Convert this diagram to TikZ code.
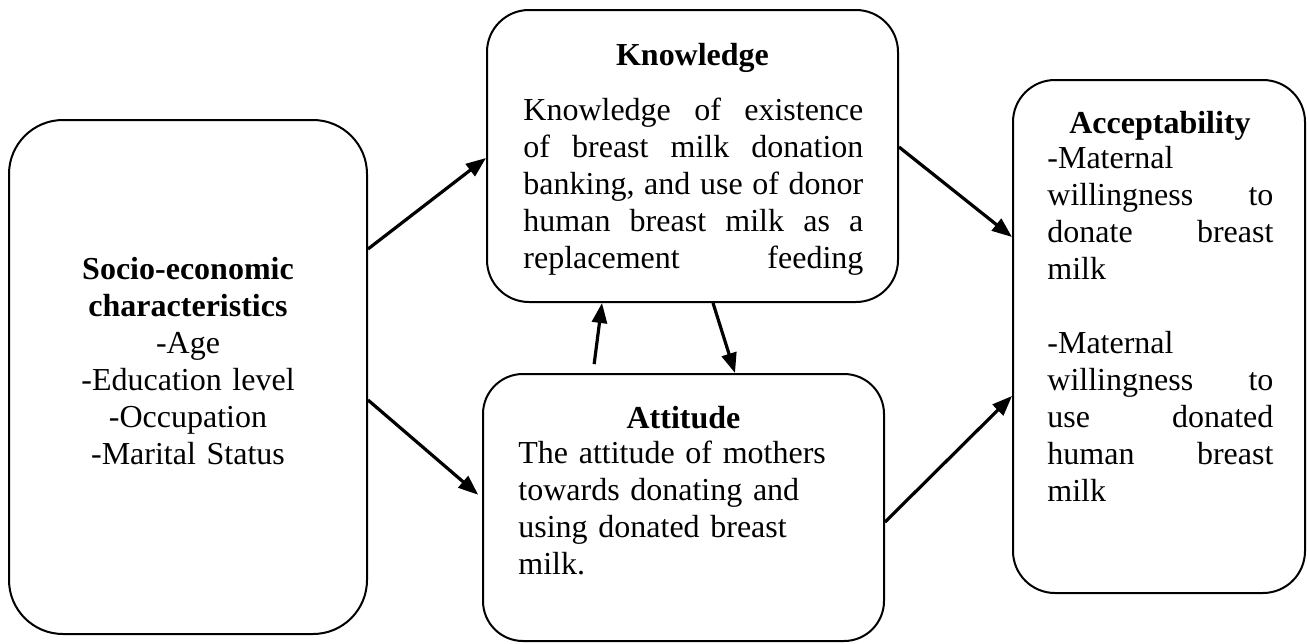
\documentclass[tikz,border=0pt]{standalone}
\usepackage{fontspec}
\setmainfont{Liberation Serif}
\usetikzlibrary{arrows.meta}

\begin{document}
\begin{tikzpicture}[x=0.5pt, y=-0.5pt,
  framebox/.style={draw, line width=1pt, inner sep=0pt},
  bodytext/.style={font=\fontsize{16}{18.5}\selectfont, inner sep=0pt},
  headtext/.style={font=\fontsize{16}{18.5}\selectfont\bfseries, inner sep=0pt, anchor=base},
  link/.style={line width=1.6pt, -{Triangle[length=10pt, width=7.5pt]}}]
\useasboundingbox (0,0) rectangle (1307,643);
\node[framebox, rounded corners=27pt, minimum width=179pt, minimum height=257pt] (socio) at (188,377) {};
\node[framebox, rounded corners=21pt, minimum width=205.5pt, minimum height=146pt] (know) at (692.5,156) {};
\node[framebox, rounded corners=20pt, minimum width=200.5pt, minimum height=133.5pt] (att) at (683.5,507.5) {};
\node[framebox, rounded corners=21pt, minimum width=146pt, minimum height=256.5pt] (acc) at (1159,336.5) {};
\node[bodytext, text width=179pt, align=center, anchor=base] (sociotext) at (188,279)
  {\textbf{Socio-economic}\\\textbf{characteristics}\\-Age\\-Education level\\-Occupation\\-Marital Status};
\node[headtext] (knowhead) at (692.5,65) {Knowledge};
\node[bodytext, text width=170pt, align=left, anchor=base west] (knowtext) at (523,120)
  {Knowledge\hfill of\hfill existence\\of\hfill breast\hfill milk\hfill donation\\banking,\hfill and\hfill use\hfill of\hfill donor\\human\hfill breast\hfill milk\hfill as\hfill a\\replacement\hfill feeding};
\node[headtext] (atthead) at (683.5,428) {Attitude};
\node[bodytext, text width=180pt, align=left, anchor=base west] (atttext) at (518,463)
  {The attitude of mothers\\towards donating and\\using donated breast\\milk.};
\node[headtext] (acchead) at (1160,133) {Acceptability};
\node[bodytext, text width=113pt, align=left, anchor=base west] (acctext) at (1047,168)
  {-Maternal\\willingness\hfill to\\donate\hfill breast\\milk\\[18.5pt]-Maternal\\willingness\hfill to\\use\hfill donated\\human\hfill breast\\milk};
\draw[link] (socio.east |- 0,249) -- (know.west |- 0,158);
\draw[link, shorten >=2.5pt] (socio.east |- 0,400) -- (att.west |- 0,498);
\draw[link, shorten <=4.5pt] (att.north -| 593,0) -- (know.south -| 602,0);
\draw[link] (know.south -| 713,0) -- (att.north -| 735,0);
\draw[link] (know.east |- 0,147) -- (acc.west |- 0,237);
\draw[link] (att.east |- 0,522) -- (acc.west |- 0,396);
\end{tikzpicture}
\end{document}
